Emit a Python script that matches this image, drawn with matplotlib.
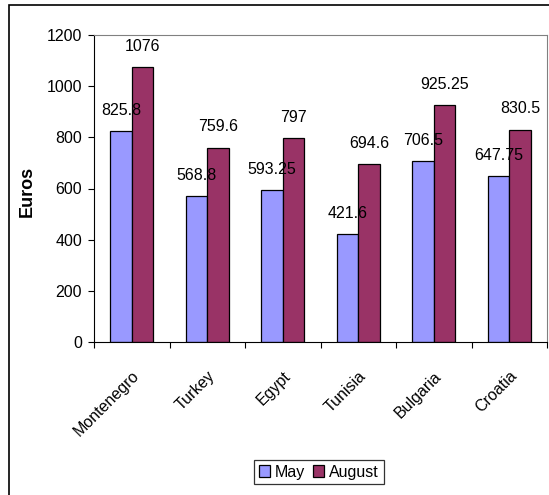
import numpy as np
import matplotlib.pyplot as plt
from matplotlib.patches import Rectangle

countries = ['Montenegro', 'Turkey', 'Egypt', 'Tunisia', 'Bulgaria', 'Croatia']
may = [825.8, 568.8, 593.25, 421.6, 706.5, 647.75]
august = [1076, 759.6, 797, 694.6, 925.25, 830.5]
may_labels = ['825.8', '568.8', '593.25', '421.6', '706.5', '647.75']
aug_labels = ['1076', '759.6', '797', '694.6', '925.25', '830.5']

plt.rcParams['font.family'] = ['Liberation Sans', 'DejaVu Sans']
fs = 11.5

fig = plt.figure(figsize=(5.49, 4.95), dpi=100)
ax = fig.add_axes([94/549, 1 - 342/495, (547-94)/549, (342-35)/495])

# outer chart frame (right and bottom edges fall outside the picture)
fig.patches.append(Rectangle((9/549, -0.02), 0.99, 1 - 5/495 + 0.02,
                             transform=fig.transFigure, fill=False,
                             edgecolor='black', linewidth=1.2))

x = np.arange(len(countries))
w = 0.285
b1 = ax.bar(x - w/2, may, w, color='#9999FF', edgecolor='black', linewidth=0.9, label='May')
b2 = ax.bar(x + w/2, august, w, color='#993366', edgecolor='black', linewidth=0.9, label='August')

for bars, labs in [(b1, may_labels), (b2, aug_labels)]:
    for rect, lab in zip(bars, labs):
        ax.annotate(lab, (rect.get_x() + rect.get_width()/2, rect.get_height()),
                    xytext=(0, 9.5), textcoords='offset points', ha='center', va='bottom',
                    fontsize=fs)

ax.set_ylim(0, 1200)
ax.set_yticks(range(0, 1201, 200))
ax.set_xlim(-0.5, len(countries) - 0.5)
ax.set_xticks(np.arange(-0.5, len(countries)), labels=[''] * (len(countries) + 1))
ax.set_xticks(x, minor=True)
ax.set_xticklabels(countries, minor=True, rotation=45, ha='right', rotation_mode='anchor', fontsize=fs)
ax.tick_params(axis='x', which='minor', length=0, pad=19)
ax.tick_params(axis='x', which='major', length=4, direction='out')
ax.tick_params(axis='y', length=4, direction='out', pad=4.5, labelsize=fs)

ax.spines['top'].set_color('#808080')
ax.spines['right'].set_color('#808080')
ax.set_ylabel('Euros', fontsize=13, fontweight='bold')
ax.yaxis.set_label_coords(36/549, 1 - 191/495, transform=fig.transFigure)

leg = ax.legend(loc='center', bbox_to_anchor=(319/549, 1 - 472/495), bbox_transform=fig.transFigure,
                ncol=2, fontsize=fs, frameon=True, fancybox=False, edgecolor='black',
                handlelength=0.7, handleheight=0.7, handletextpad=0.3, columnspacing=0.5,
                borderpad=0.3)
leg.get_frame().set_linewidth(0.9)

fig.savefig('out.png', dpi=100)
